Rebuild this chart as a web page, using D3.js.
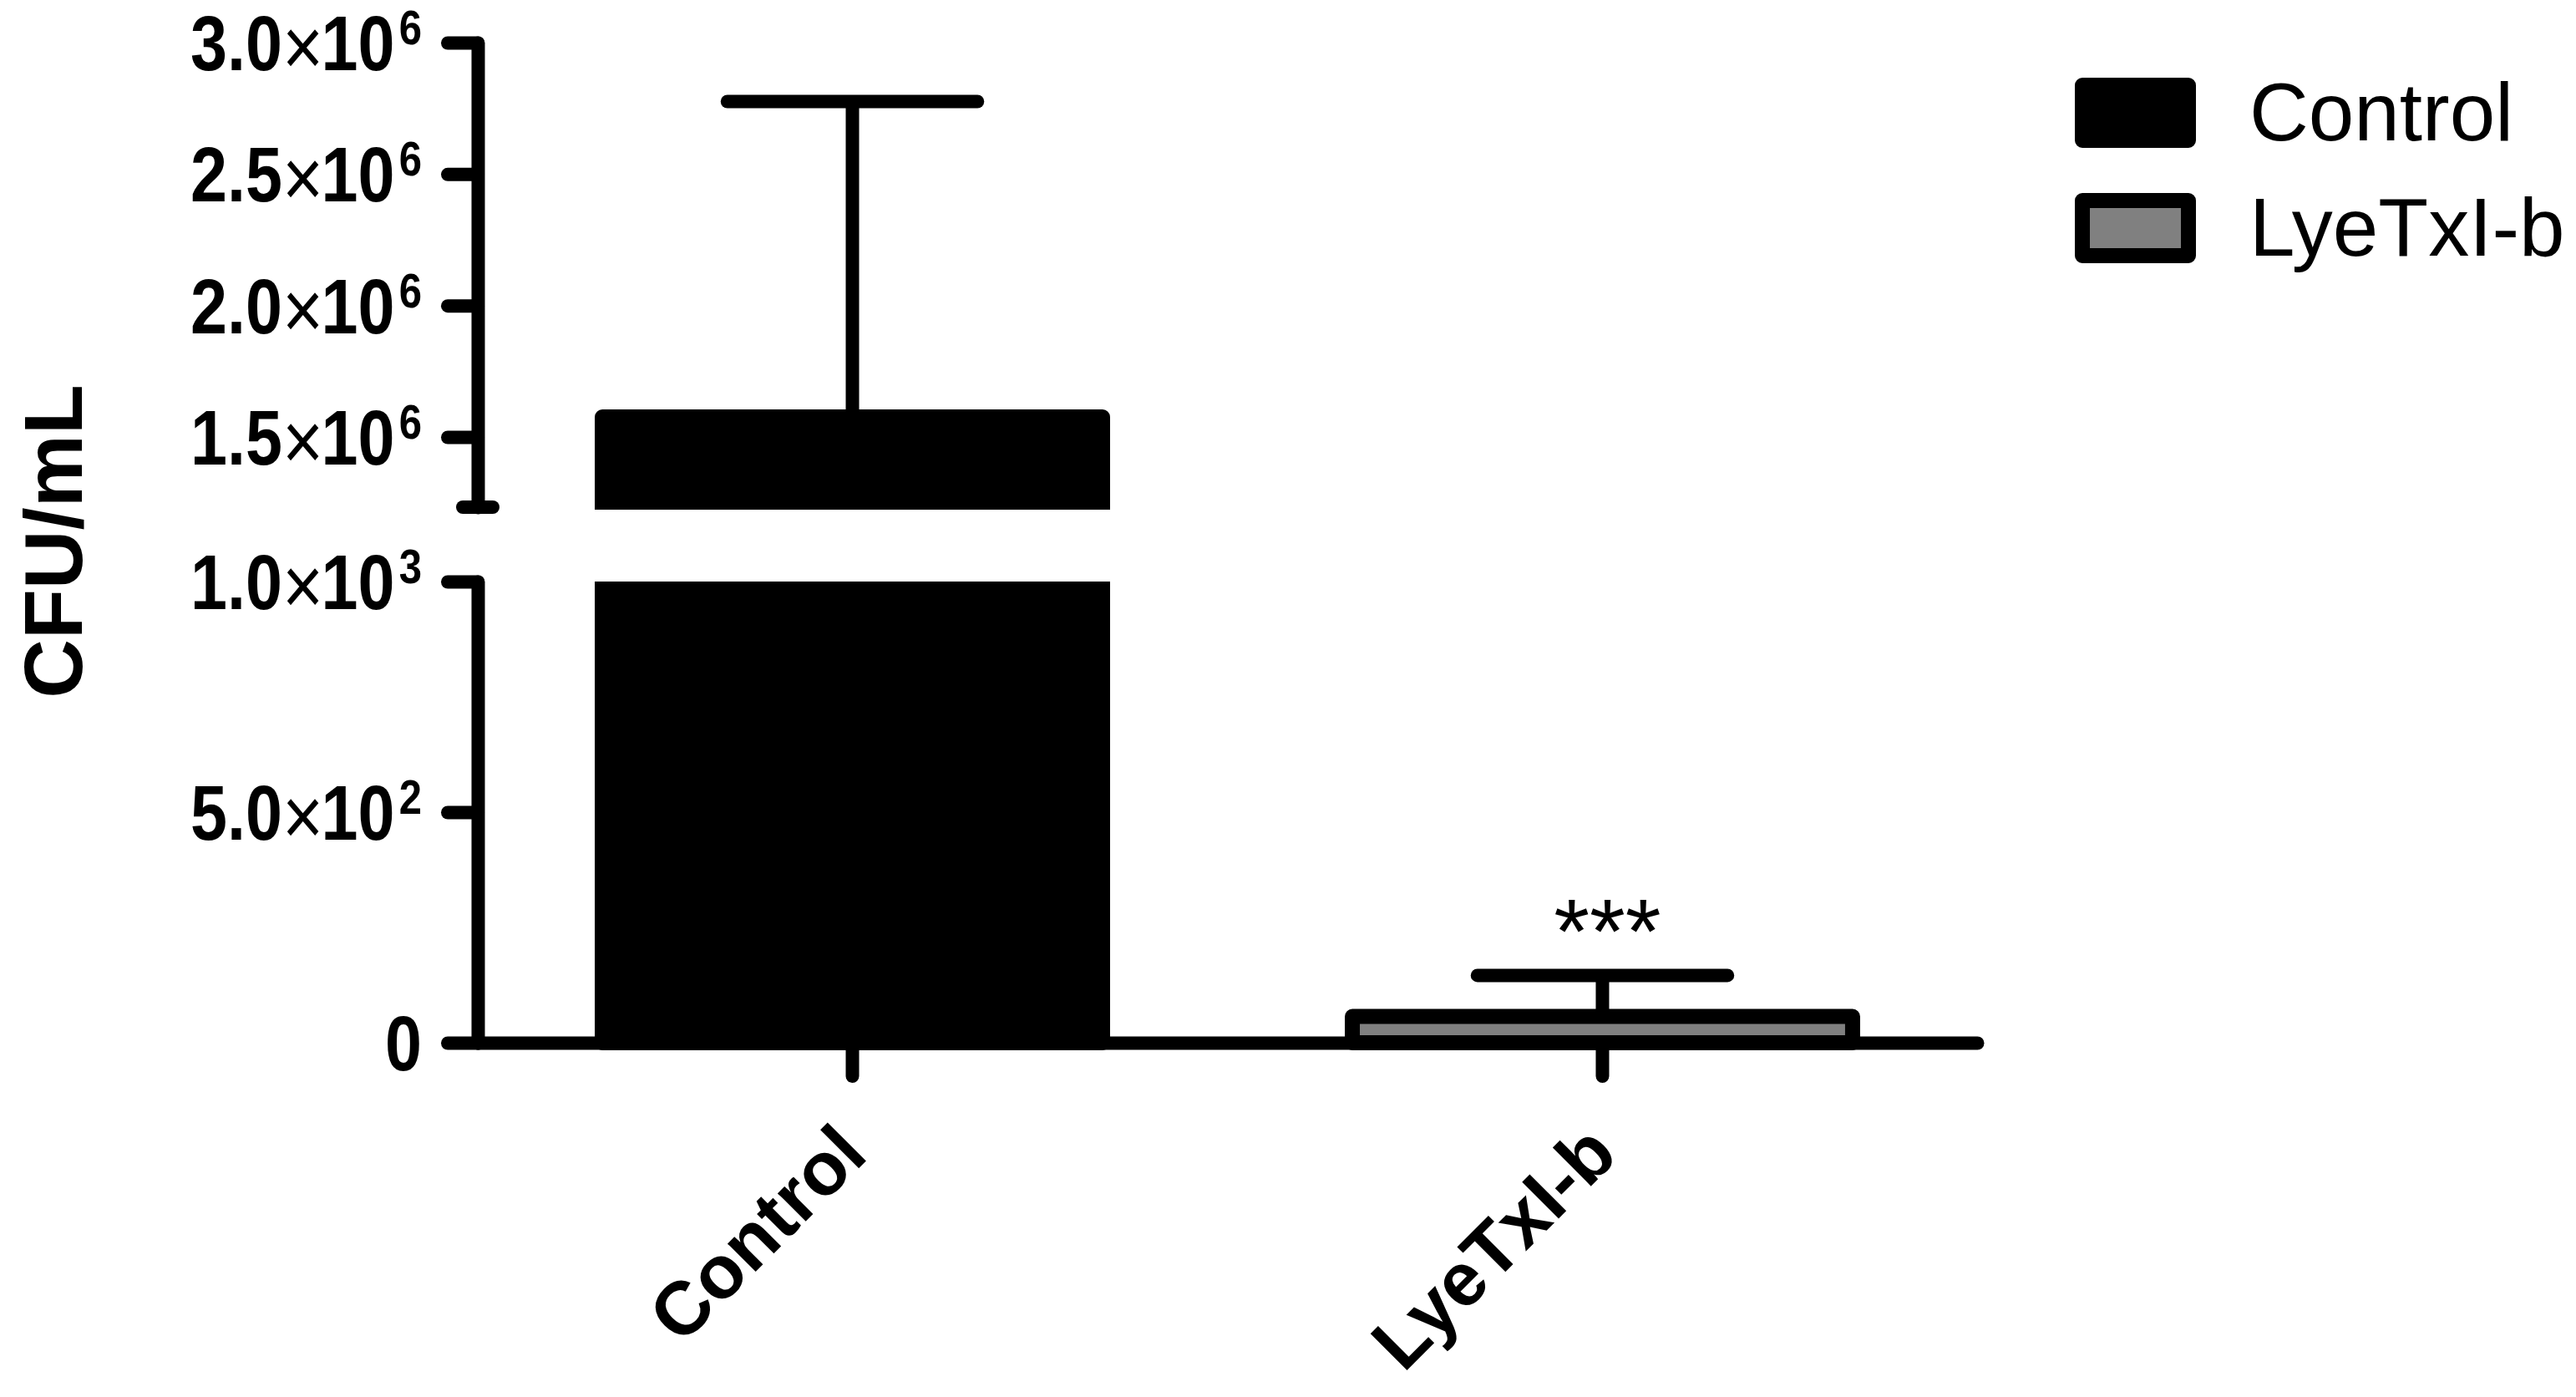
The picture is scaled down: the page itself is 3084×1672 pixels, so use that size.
<!DOCTYPE html>
<html>
<head>
<meta charset="utf-8">
<script src="https://cdn.jsdelivr.net/npm/d3@7"></script>
<style>
  body { margin: 0; background: #fff; }
  svg { display: block; font-family: "Liberation Sans", Arial, sans-serif; }
</style>
</head>
<body>
<svg id="chart"></svg>
<script>
// data
const groups = ["Control", "LyeTxI-b"];
const means = [1576000, 57];
const errors = [1200000, 89];
const stars = ["", "***"];

const upperTicks = [1500000, 2000000, 2500000, 3000000];
const upperTickLabels = ["1.5×10^6", "2.0×10^6", "2.5×10^6", "3.0×10^6"];
const lowerTicks = [0, 500, 1000];
const lowerTickLabels = ["0", "5.0×10^2", "1.0×10^3"];

const width = 3084;
const height = 1672;
const axisX = 572;
const stroke = 16;

const svg = d3.select('#chart')
    .attr('width', width)
    .attr('height', height);

// broken y axis: two linear pieces
const yLow = d3.scaleLinear().domain([0, 1000]).range([1248, 696]);
const yHigh = d3.scaleLinear().domain([1233000, 3000000]).range([607, 51]);
const yPos = v => v > 1000 ? yHigh(v) : yLow(v);

const x = d3.scaleBand()
    .domain(groups)
    .range([axisX, 2367])
    .paddingInner(0.333)
    .paddingOuter(0.166);

const color = d3.scaleOrdinal().domain(groups).range(["#000000", "#808080"]);

// clip regions for the two pieces of the axis
const defs = svg.append('defs');
defs.append('clipPath').attr('id', 'clipHigh')
    .append('rect').attr('x', 0).attr('y', 0).attr('width', width).attr('height', 610);
defs.append('clipPath').attr('id', 'clipLow')
    .append('rect').attr('x', 0).attr('y', yLow(1000)).attr('width', width).attr('height', height - yLow(1000));

const rows = groups.map((g, i) => ({ g: g, mean: means[i], err: errors[i], star: stars[i] }));

// bars, drawn once per axis piece
['clipHigh', 'clipLow'].forEach(id => {
    svg.append('g')
        .attr('clip-path', 'url(#' + id + ')')
        .selectAll('rect')
        .data(rows)
        .enter()
        .append('rect')
        .attr('x', d => x(d.g))
        .attr('width', x.bandwidth())
        .attr('y', d => yPos(d.mean))
        .attr('height', d => yLow(0) - yPos(d.mean))
        .attr('fill', d => color(d.g))
        .attr('stroke', '#000')
        .attr('stroke-width', 18)
        .attr('stroke-linejoin', 'round');
});

// error bars (upper only)
const err = svg.append('g')
    .attr('stroke', '#000')
    .attr('stroke-width', stroke)
    .attr('stroke-linecap', 'round');

err.selectAll('.stem')
    .data(rows)
    .enter()
    .append('line')
    .attr('class', 'stem')
    .attr('stroke-linecap', 'butt')
    .attr('x1', d => x(d.g) + x.bandwidth() / 2)
    .attr('x2', d => x(d.g) + x.bandwidth() / 2)
    .attr('y1', d => yPos(d.mean))
    .attr('y2', d => yPos(d.mean + d.err));

err.selectAll('.cap')
    .data(rows)
    .enter()
    .append('line')
    .attr('class', 'cap')
    .attr('x1', d => x(d.g) + x.bandwidth() / 4)
    .attr('x2', d => x(d.g) + x.bandwidth() * 3 / 4)
    .attr('y1', d => yPos(d.mean + d.err))
    .attr('y2', d => yPos(d.mean + d.err));

// significance stars
svg.selectAll('.star')
    .data(rows)
    .enter()
    .append('text')
    .attr('class', 'star')
    .attr('x', d => x(d.g) + x.bandwidth() / 2 + 6)
    .attr('y', d => yPos(d.mean + d.err) - 15)
    .attr('text-anchor', 'middle')
    .attr('font-size', 110)
    .text(d => d.star);

// axes
function styleAxis(g) {
    g.selectAll('path, line')
        .attr('stroke', '#000')
        .attr('stroke-width', stroke)
        .attr('stroke-linecap', 'round')
        .attr('stroke-linejoin', 'round');
}

svg.append('g')
    .attr('transform', 'translate(' + axisX + ',0)')
    .call(d3.axisLeft(yHigh).tickValues(upperTicks).tickSize(36).tickSizeOuter(0).tickFormat(''))
    .call(styleAxis);

svg.append('g')
    .attr('transform', 'translate(' + axisX + ',0)')
    .call(d3.axisLeft(yLow).tickValues(lowerTicks).tickSize(36).tickSizeOuter(0).tickFormat(''))
    .call(styleAxis);

// little foot at the bottom of the upper piece
svg.append('line')
    .attr('x1', axisX - 18).attr('x2', axisX + 18)
    .attr('y1', yHigh.range()[0]).attr('y2', yHigh.range()[0])
    .attr('stroke', '#000')
    .attr('stroke-width', stroke)
    .attr('stroke-linecap', 'round');

svg.append('g')
    .attr('transform', 'translate(0,' + yLow(0) + ')')
    .call(d3.axisBottom(x).tickSize(40).tickSizeOuter(0).tickFormat(''))
    .call(styleAxis);

// y tick labels: mantissa, thin "×", base and superscript exponent
function tickLabel(sel, label) {
    const parts = label.split('^');
    const m = parts[0].split('×');
    sel.append('tspan').text(m[0]);
    if (m.length > 1) {
        sel.append('tspan')
            .attr('dy', 6)
            .attr('font-size', 98)
            .attr('font-weight', 'normal')
            .text('×');
        sel.append('tspan')
            .attr('dx', -3)
            .attr('dy', -6)
            .text(m[1]);
    }
    if (parts[1]) {
        sel.append('tspan')
            .attr('dx', 6)
            .attr('dy', -31)
            .attr('font-size', 57)
            .text(parts[1]);
    }
}

const tickData = upperTicks.map((v, i) => ({ y: yHigh(v), label: upperTickLabels[i] }))
    .concat(lowerTicks.map((v, i) => ({ y: yLow(v), label: lowerTickLabels[i] })));

svg.selectAll('.ylab')
    .data(tickData)
    .enter()
    .append('g')
    .attr('class', 'ylab')
    .attr('transform', d => 'translate(505,' + (d.y + 33) + ') scale(0.86,1)')
    .append('text')
    .attr('text-anchor', 'end')
    .attr('font-size', 92)
    .attr('font-weight', 'bold')
    .each(function (d) { tickLabel(d3.select(this), d.label); });

// y title
svg.append('text')
    .attr('transform', 'translate(98,648) rotate(-90)')
    .attr('text-anchor', 'middle')
    .attr('font-size', 98)
    .attr('font-weight', 'bold')
    .text('CFU/mL');

// x labels, rotated
svg.selectAll('.xlab')
    .data(groups)
    .enter()
    .append('text')
    .attr('class', 'xlab')
    .attr('transform', d => 'translate(' + (x(d) + x.bandwidth() / 2 + 21) + ',1385) rotate(-45)')
    .attr('text-anchor', 'end')
    .attr('font-size', 90)
    .attr('font-weight', 'bold')
    .text(d => d);

// legend
const legend = svg.selectAll('.legend')
    .data(groups)
    .enter()
    .append('g')
    .attr('class', 'legend')
    .attr('transform', (d, i) => 'translate(2493,' + (102 + i * 138) + ')');

legend.append('rect')
    .attr('width', 127)
    .attr('height', 66)
    .attr('fill', d => color(d))
    .attr('stroke', '#000')
    .attr('stroke-width', 18)
    .attr('stroke-linejoin', 'round');

legend.append('text')
    .attr('x', 200)
    .attr('y', 66)
    .attr('font-size', 98)
    .text(d => d);
</script>
</body>
</html>
